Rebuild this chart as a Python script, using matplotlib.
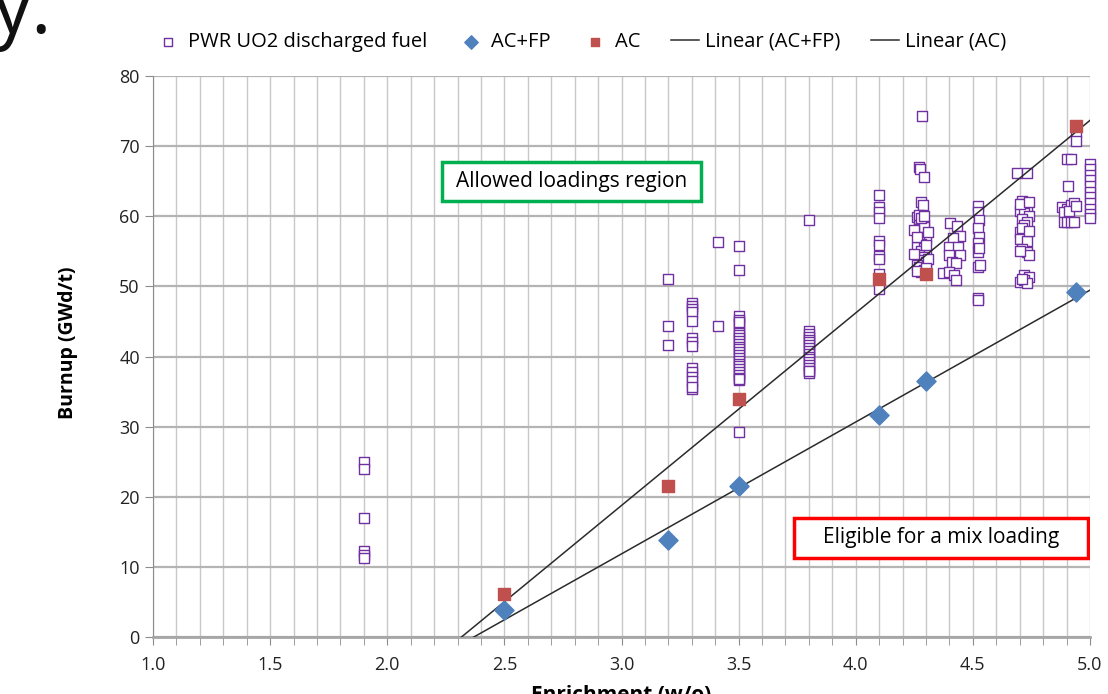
import matplotlib
matplotlib.use("Agg")
import matplotlib.pyplot as plt
import numpy as np
from matplotlib.ticker import MultipleLocator, FormatStrFormatter
from matplotlib.patches import Rectangle

plt.rcParams['font.family'] = ['Open Sans', 'DejaVu Sans']

# ---- data ----
pwr_x_190 = [1.9] * 6
pwr_y_190 = [24.9, 24.0, 16.9, 12.2, 11.7, 11.2]
pwr_x_320 = [3.2] * 3
pwr_y_320 = [51.1, 44.3, 41.7]
pwr_x_330 = [3.3] * 14
pwr_y_330 = [47.6, 47.2, 46.8, 46.4, 45.1, 42.7, 42.1, 41.5, 38.4, 37.8, 37.1, 36.5, 35.3, 35.6]
pwr_x_341 = [3.41, 3.41]
pwr_y_341 = [56.3, 44.3]
pwr_x_350 = [3.5] * 27
pwr_y_350 = [55.8, 52.4, 45.8, 45.2, 44.6, 43.6, 43.3, 43.0, 42.6, 42.2, 41.8, 41.4,
             41.0, 40.6, 40.2, 39.8, 39.4, 39.0, 38.6, 38.2, 37.8, 37.4, 37.0, 36.6,
             36.8, 44.9, 29.3]
pwr_x_380 = [3.8] * 18
pwr_y_380 = [59.5, 43.6, 43.2, 42.8, 42.4, 42.0, 41.6, 41.2, 40.8, 40.4, 40.0, 39.6,
             39.2, 38.8, 38.4, 38.0, 37.6, 37.9]
pwr_x_410 = [4.1] * 10
pwr_y_410 = [63.1, 61.3, 60.6, 59.8, 56.4, 55.9, 54.3, 53.9, 51.8, 49.6]
pwr_x_428 = [4.283, 4.27, 4.275, 4.29, 4.28, 4.285, 4.26, 4.27, 4.28, 4.29, 4.27, 4.28,
             4.29, 4.30, 4.27, 4.28, 4.26, 4.29, 4.28, 4.30, 4.27, 4.29, 4.28, 4.30,
             4.26, 4.27, 4.29, 4.28, 4.27, 4.29, 4.25, 4.31, 4.26, 4.30, 4.25, 4.31,
             4.26, 4.30, 4.28, 4.29]
pwr_y_428 = [74.3, 67.0, 66.7, 65.6, 62.0, 61.6, 59.9, 59.4, 59.0, 58.7, 58.2, 57.6,
             57.3, 56.9, 56.4, 56.0, 55.6, 55.5, 55.1, 54.8, 54.5, 54.2, 53.8, 53.5,
             53.1, 52.7, 52.4, 52.0, 60.2, 58.4, 58.0, 57.8, 57.0, 55.9, 54.6, 53.9,
             52.2, 52.6, 59.8, 60.1]
pwr_x_442 = [4.402, 4.432, 4.445, 4.415, 4.40, 4.437, 4.398, 4.445, 4.41, 4.43,
             4.373, 4.40, 4.42, 4.43]
pwr_y_442 = [59.0, 58.6, 57.2, 56.9, 55.6, 55.6, 54.5, 54.5, 53.5, 53.3,
             51.9, 52.0, 51.6, 50.9]
pwr_x_452 = [4.52, 4.52, 4.525, 4.52, 4.525, 4.52, 4.52, 4.52, 4.53, 4.52, 4.52, 4.525]
pwr_y_452 = [61.5, 60.6, 59.5, 58.3, 57.0, 56.2, 54.9, 52.8, 53.0, 48.3, 48.0, 55.5]
pwr_x_472 = [4.69, 4.73, 4.71, 4.72, 4.73, 4.70, 4.72, 4.74, 4.71, 4.73, 4.72, 4.70,
             4.72, 4.70, 4.73, 4.71, 4.73, 4.74, 4.72, 4.74, 4.70, 4.72, 4.73,
             4.70, 4.74, 4.71, 4.74, 4.70, 4.71]
pwr_y_472 = [66.2, 66.2, 62.2, 61.7, 61.2, 60.8, 60.4, 60.0, 59.6, 59.2, 58.8, 57.8,
             57.2, 56.7, 56.5, 55.4, 54.9, 54.5, 51.6, 51.3, 50.6, 50.9, 50.5,
             61.8, 62.0, 58.3, 57.9, 55.0, 51.1]
pwr_x_491 = [4.90, 4.92, 4.906, 4.88, 4.90, 4.92, 4.93, 4.89, 4.91, 4.94,
             4.89, 4.90, 4.92, 4.93, 4.94, 4.94]
pwr_y_491 = [68.2, 68.2, 64.3, 61.3, 61.0, 61.6, 61.9, 60.6, 60.8, 61.4,
             59.2, 59.2, 59.2, 59.2, 72.0, 70.8]
pwr_x_500 = [5.0] * 11
pwr_y_500 = [67.5, 66.7, 65.9, 65.1, 64.3, 63.5, 62.7, 61.9, 61.1, 60.3, 59.8]

pwr_x = (pwr_x_190 + pwr_x_320 + pwr_x_330 + pwr_x_341 + pwr_x_350 + pwr_x_380 +
         pwr_x_410 + pwr_x_428 + pwr_x_442 + pwr_x_452 + pwr_x_472 + pwr_x_491 + pwr_x_500)
pwr_y = (pwr_y_190 + pwr_y_320 + pwr_y_330 + pwr_y_341 + pwr_y_350 + pwr_y_380 +
         pwr_y_410 + pwr_y_428 + pwr_y_442 + pwr_y_452 + pwr_y_472 + pwr_y_491 + pwr_y_500)

acfp_x = [2.5, 3.2, 3.5, 4.1, 4.3, 4.94]
acfp_y = [3.8, 13.9, 21.5, 31.6, 36.5, 49.2]
ac_x = [2.5, 3.2, 3.5, 4.1, 4.3, 4.94]
ac_y = [6.1, 21.6, 33.9, 51.0, 51.7, 72.9]

x_ticks = [1.0, 1.5, 2.0, 2.5, 3.0, 3.5, 4.0, 4.5, 5.0]
y_ticks = [0, 10, 20, 30, 40, 50, 60, 70, 80]

# ---- figure ----
fig = plt.figure(figsize=(11.08, 6.94), dpi=100)
ax = fig.add_axes([153/1108, 57/694, 937/1108, 561/694])

purple = '#7030A0'
blue = '#4F81BD'
red = '#C0504D'

ax.scatter(pwr_x, pwr_y, marker='s', s=52, facecolors='white', edgecolors=purple,
           linewidths=1.0, zorder=3, clip_on=False, label='PWR UO2 discharged fuel')

# trend lines (least-squares fits)
xl = np.linspace(1.0, 5.0, 200)
p1 = np.polyfit(acfp_x, acfp_y, 1)
p2 = np.polyfit(ac_x, ac_y, 1)

ax.scatter(acfp_x, acfp_y, marker='D', s=95, color=blue, zorder=5, label='AC+FP')
ax.scatter(ac_x, ac_y, marker='s', s=85, color=red, zorder=5, label='AC')
ax.plot(xl, np.polyval(p1, xl), color='#2b2b2b', lw=1.1, zorder=4, label='Linear (AC+FP)')
ax.plot(xl, np.polyval(p2, xl), color='#2b2b2b', lw=1.1, zorder=4, label='Linear (AC)')

ax.set_xlim(1.0, 5.0)
ax.set_ylim(0, 80)
ax.set_xticks(x_ticks)
ax.xaxis.set_minor_locator(MultipleLocator(0.1))
ax.xaxis.set_major_formatter(FormatStrFormatter('%.1f'))
ax.set_yticks(y_ticks)

ax.grid(True, axis='x', which='both', color='#c8c8c8', lw=1.0, zorder=0)
ax.grid(True, axis='y', which='major', color='#b4b4b4', lw=1.6, zorder=0)
ax.set_axisbelow(True)

for s in ['top', 'right']:
    ax.spines[s].set_visible(False)
ax.spines['left'].set_color('#8c8c8c')
ax.spines['bottom'].set_color('#a6a6a6')
ax.spines['bottom'].set_linewidth(2.0)
ax.tick_params(axis='both', which='both', direction='out', color='#8c8c8c', length=6,
               labelsize=13, labelcolor='#222222')
ax.tick_params(axis='x', which='major', pad=8)

ax.set_ylabel('Burnup (GWd/t)', fontsize=14, fontweight='bold')
ax.yaxis.set_label_coords(-0.080, 0.525)

# annotation boxes
ax.add_patch(Rectangle((2.2337, 62.17), 3.3394 - 2.2337, 67.74 - 62.17, fc='white',
                       ec='#00B050', lw=2.5, zorder=6))
ax.text(2.7866, 64.95, 'Allowed loadings region', fontsize=15, ha='center', va='center',
        zorder=7)
ax.add_patch(Rectangle((3.7364, 11.27), 4.9914 - 3.7364, 16.97 - 11.27, fc='white',
                       ec='#FF0000', lw=2.5, zorder=6))
ax.text(4.364, 14.12, 'Eligible for a mix loading', fontsize=15, ha='center', va='center',
        zorder=7)

# legend
handles, labels = ax.get_legend_handles_labels()
order = ['PWR UO2 discharged fuel', 'AC+FP', 'AC', 'Linear (AC+FP)', 'Linear (AC)']
hmap = dict(zip(labels, handles))
leg = fig.legend([hmap[k] for k in order], order, loc='center', ncol=5,
                 bbox_to_anchor=(580/1108, 1 - 42/694), frameon=False, fontsize=14.5,
                 handlelength=1.4, handletextpad=0.3, columnspacing=1.5,
                 markerscale=0.7)

# cropped slide text and x label
fig.text(-0.006, 1 - 33/694, 'y.', fontsize=56, ha='left', va='baseline',
         color='#111111')
fig.text(621/1108, 1 - 685/694, 'Enrichment (w/o)', fontsize=15, fontweight='bold',
         ha='center', va='top')

fig.savefig('out.png', dpi=100)
